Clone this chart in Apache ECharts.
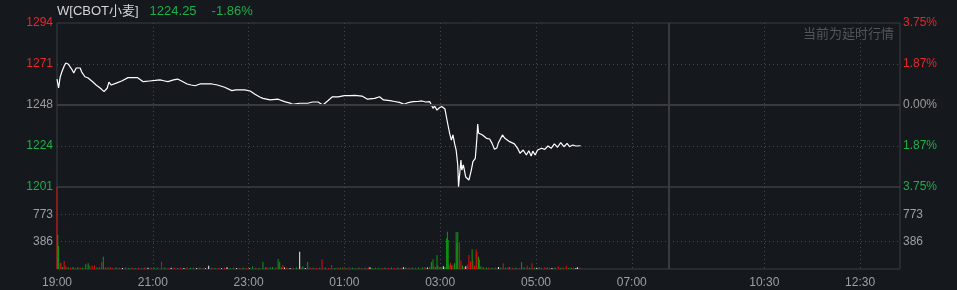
<!DOCTYPE html>
<html><head><meta charset="utf-8">
<script src="https://cdn.jsdelivr.net/npm/echarts@6/dist/echarts.min.js"></script>
<style>html,body{margin:0;padding:0;background:#15181d;}#c{width:957px;height:290px;}</style>
</head><body><div id="c"></div>
<script>
// ---- data ----
const symbolName = 'W[CBOT小麦]';
const lastPrice = '1224.25';
const changePct = '-1.86%';
const delayNote = '当前为延时行情';
const prevClose = 1247.5;
const pctRange = 3.75;
const sessions = [['19:00', '07:45'], ['08:30', '13:20']];
const timeTickLabels = ['19:00','21:00','23:00','01:00','03:00','05:00','07:00','10:30','12:30'];
const priceTickLabels = ['1201','1224','1248','1271','1294'];
const pctTickLabels = ['3.75%','1.87%','0.00%','1.87%','3.75%'];
const volTickLabels = ['', '386', '773', ''];
const volMax = 1159.5;
const volStep = 386.5;
// [minuteIndex, price]
const priceData = [[0,1262.3],[2,1257.2],[4,1263.5],[6,1266.3],[9,1269.8],[11,1271.5],[14,1270.9],[16,1269.8],[19,1267.5],[21,1265.8],[24,1268.6],[26,1269.2],[29,1268.6],[31,1266.3],[35,1263.6],[39,1262.9],[41,1261.8],[45,1260.6],[49,1258.9],[54,1257.2],[59,1255.1],[63,1257.2],[65,1260.6],[68,1258.9],[70,1258.9],[75,1260.1],[81,1261.2],[89,1263.1],[95,1263.2],[101,1263.1],[108,1260.8],[116,1261.2],[123,1261.5],[129,1261.8],[135,1261.2],[139,1260.8],[146,1261.8],[151,1262.3],[156,1261.2],[163,1259.5],[168,1258.9],[173,1258.5],[179,1259.5],[185,1259.5],[194,1259.5],[201,1258.9],[210,1257.6],[219,1255.7],[224,1256.1],[229,1256.2],[235,1256.1],[242,1255.5],[248,1253.6],[254,1252.1],[258,1251.3],[267,1250.4],[277,1250.8],[285,1249.4],[292,1248.6],[295,1247.9],[304,1248.5],[314,1248.5],[320,1249.2],[327,1249.2],[333,1247.5],[339,1249.8],[345,1252.2],[352,1252.1],[360,1252.8],[367,1252.9],[373,1253.0],[382,1252.6],[389,1250.8],[398,1251.3],[404,1252.2],[409,1250.4],[417,1250.0],[423,1249.5],[429,1249.0],[435,1247.9],[440,1248.9],[446,1249.4],[452,1249.5],[457,1249.8],[462,1249.2],[467,1249.4],[471,1245.6],[473,1246.9],[476,1244.6],[479,1245.9],[482,1246.6],[486,1245.2],[487,1244.6],[489,1237.8],[492,1231.0],[494,1227.5],[496,1230.4],[498,1225.6],[500,1221.8],[502,1213.3],[503,1200.9],[506,1216.1],[507,1210.4],[509,1213.3],[512,1206.4],[514,1205.8],[516,1204.7],[519,1210.4],[521,1215.2],[524,1217.1],[526,1228.7],[527,1236.6],[528,1231.5],[529,1230.4],[533,1230.4],[538,1228.5],[542,1228.1],[545,1225.6],[548,1222.2],[551,1223.0],[553,1226.0],[558,1230.4],[561,1228.5],[567,1226.6],[573,1225.3],[577,1222.8],[580,1220.0],[584,1221.8],[588,1219.0],[591,1221.4],[594,1218.4],[596,1221.2],[599,1219.0],[602,1221.8],[607,1222.8],[611,1222.2],[615,1224.1],[619,1222.8],[623,1225.3],[627,1223.4],[631,1226.0],[635,1223.7],[639,1225.6],[642,1223.7],[646,1224.7],[650,1224.1],[656,1224.25]];
// [minuteIndex, volume, direction(1 up, -1 down, 0 flat)]
const volumeData = [[0,1300,1],[1,480,-1],[2,325,-1],[4,85,1],[5,90,1],[7,30,-1],[9,113,1],[11,45,1],[14,25,-1],[17,20,1],[20,30,-1],[23,15,1],[26,25,-1],[29,20,1],[32,18,-1],[36,66,-1],[39,80,-1],[41,50,1],[44,45,1],[47,50,1],[50,20,-1],[53,30,1],[56,99,1],[58,174,-1],[61,25,1],[64,20,-1],[67,30,1],[70,15,1],[74,25,-1],[78,20,1],[82,15,0],[86,25,1],[90,18,-1],[94,22,1],[98,15,-1],[102,20,1],[106,12,-1],[110,25,1],[114,18,0],[118,20,1],[122,15,-1],[126,22,1],[131,103,1],[135,20,-1],[139,15,1],[143,18,0],[147,20,1],[151,12,-1],[155,22,1],[159,15,0],[163,25,1],[167,18,-1],[171,20,1],[175,15,0],[179,22,-1],[183,18,1],[186,12,0],[190,45,0],[194,20,1],[198,15,-1],[202,18,1],[206,12,0],[210,20,1],[213,25,0],[217,15,-1],[221,22,1],[225,15,0],[229,18,1],[233,20,-1],[237,15,1],[241,12,0],[245,40,-1],[249,20,1],[253,15,-1],[258,103,-1],[261,20,-1],[263,30,1],[267,25,-1],[270,30,-1],[274,20,1],[277,141,-1],[279,103,-1],[281,25,-1],[283,55,1],[285,20,0],[288,20,1],[292,15,0],[296,18,1],[300,20,-1],[304,245,0],[306,20,1],[308,40,-1],[311,15,0],[314,100,-1],[317,20,1],[321,18,-1],[325,15,1],[329,20,1],[332,137,1],[336,20,-1],[340,18,1],[344,57,1],[348,15,-1],[352,20,1],[355,18,-1],[358,20,1],[362,15,-1],[366,22,1],[370,18,-1],[374,15,1],[378,20,-1],[382,15,1],[386,18,-1],[390,20,1],[392,25,0],[395,15,-1],[399,20,1],[403,18,-1],[407,15,1],[411,20,-1],[415,18,1],[419,22,-1],[423,15,1],[427,20,-1],[431,18,1],[434,25,0],[437,25,-1],[441,20,1],[445,22,-1],[449,18,1],[453,20,-1],[458,25,-1],[461,30,1],[464,20,0],[467,33,-1],[469,100,-1],[471,137,-1],[472,40,1],[474,30,-1],[476,198,-1],[477,50,-1],[479,30,1],[481,25,-1],[484,40,0],[486,30,-1],[488,434,-1],[489,528,-1],[490,410,-1],[491,60,-1],[493,90,1],[494,50,-1],[496,60,1],[498,80,-1],[500,518,-1],[501,369,-1],[502,523,-1],[504,377,1],[506,121,1],[508,50,-1],[510,30,1],[512,40,0],[514,60,1],[516,198,1],[518,110,1],[520,278,-1],[521,120,1],[523,50,1],[525,278,1],[526,245,1],[528,174,-1],[529,136,-1],[531,40,-1],[534,25,-1],[538,20,-1],[541,25,1],[545,18,-1],[549,20,1],[553,30,0],[556,20,-1],[559,80,1],[562,18,-1],[565,22,1],[567,30,-1],[571,18,1],[575,20,-1],[579,15,1],[582,100,-1],[585,20,-1],[589,45,1],[592,18,-1],[595,80,1],[598,20,-1],[601,15,0],[604,30,-1],[607,18,1],[611,25,1],[614,20,-1],[617,18,1],[620,15,0],[624,20,-1],[628,40,1],[631,18,-1],[634,20,1],[638,45,1],[641,15,-1],[644,20,-1],[647,18,1],[650,15,0],[652,25,0],[655,18,1]];

// ---- build ----
const RED = '#e8262d', GREEN = '#1eae4a', GREY = '#9c9c9c', AXIS = '#9aa0a8';
const BAR_RED = '#e30e0e', BAR_GREEN = '#0f9a12', BAR_WHITE = '#f0f0f0';
const GRIDC = '#45484e', BORDER = '#3b3d42';
const FONT = 'Arial, "Liberation Sans", "Noto Sans CJK SC", sans-serif';

function toMin(t){const [h,m]=t.split(':').map(Number);return h*60+m;}
function pad(n){return (n<10?'0':'')+n;}
const categories = [];
sessions.forEach(([s,e])=>{
  let a=toMin(s), b=toMin(e); if (b<a) b+=1440;
  for(let m=a;m<=b;m++){const mm=m%1440;categories.push(pad(Math.floor(mm/60))+':'+pad(mm%60));}
});
const tickIdx = timeTickLabels.map(t=>categories.indexOf(t));
const breakCat = sessions[1][0];

const step = prevClose*pctRange/100/2;
const pMin = prevClose-2*step, pMax = prevClose+2*step;
function pIdx(v){return Math.round((v-pMin)/step);}
function colorKey(i){return i<2?'g':(i===2?'n':'r');}
const rich = {r:{color:RED,fontSize:12,fontFamily:FONT},g:{color:GREEN,fontSize:12,fontFamily:FONT},n:{color:GREY,fontSize:12,fontFamily:FONT}};

const dotted = {show:true, lineStyle:{color:GRIDC, type:[1,3], width:1}, showMinLine:false, showMaxLine:false};
const splitX = {show:true, interval:(i)=>i>0 && tickIdx.includes(i), lineStyle:{color:GRIDC, type:[1,3], width:1}};

function volSeries(dir, color){
  return {type:'bar', xAxisIndex:1, yAxisIndex:2, barWidth:1, barGap:'-100%', clip:true,
    itemStyle:{color}, silent:true,
    data: volumeData.filter(d=>d[2]===dir).map(d=>[d[0],d[1]])};
}

const option = {
  backgroundColor:'#15181d',
  animation:false,
  textStyle:{fontFamily:FONT},
  title:[{
    text:'{a|'+symbolName+'}{b|'+lastPrice+'}{c|'+changePct+'}',
    left:57, top:5, padding:0,
    textStyle:{fontWeight:'normal',rich:{
      a:{color:'#d2d4d8',fontSize:13,fontWeight:'normal',fontFamily:FONT,padding:[0,11,0,0]},
      b:{color:GREEN,fontSize:13,fontWeight:'normal',fontFamily:FONT,padding:[0,15,0,0]},
      c:{color:GREEN,fontSize:13,fontWeight:'normal',fontFamily:FONT}}}
  },{
    text:delayNote, right:63, top:27, padding:0,
    textStyle:{color:'#52565c',fontSize:13,fontWeight:'normal',fontFamily:'"Noto Sans CJK SC", sans-serif'}
  }],
  grid:[
    {left:57,right:57,top:23,height:164,show:true,borderColor:BORDER,borderWidth:1,backgroundColor:'transparent'},
    {left:57,right:57,top:187,height:82,show:true,borderColor:BORDER,borderWidth:1,backgroundColor:'transparent'}
  ],
  xAxis:[
    {type:'category',gridIndex:0,data:categories,boundaryGap:false,axisLine:{show:false},axisTick:{show:false},axisLabel:{show:false},splitLine:splitX},
    {type:'category',gridIndex:1,data:categories,boundaryGap:false,axisLine:{show:false},axisTick:{show:false},
      axisLabel:{show:true,interval:(i)=>tickIdx.includes(i),color:AXIS,fontSize:12,margin:8,fontFamily:FONT},splitLine:splitX}
  ],
  yAxis:[
    {type:'value',gridIndex:0,position:'left',min:pMin,max:pMax,interval:step,axisLine:{show:false},axisTick:{show:false},
      axisLabel:{margin:4,formatter:(v)=>{const i=pIdx(v);return '{'+colorKey(i)+'|'+priceTickLabels[i]+'}';},rich},splitLine:dotted},
    {type:'value',gridIndex:0,position:'right',min:pMin,max:pMax,interval:step,axisLine:{show:false},axisTick:{show:false},
      axisLabel:{margin:3,formatter:(v)=>{const i=pIdx(v);return '{'+colorKey(i)+'|'+pctTickLabels[i]+'}';},rich},splitLine:{show:false}},
    {type:'value',gridIndex:1,position:'left',min:0,max:volMax,interval:volStep,axisLine:{show:false},axisTick:{show:false},
      axisLabel:{margin:4,color:AXIS,fontSize:12,fontFamily:FONT,formatter:(v)=>volTickLabels[Math.round(v/volStep)]||''},splitLine:dotted},
    {type:'value',gridIndex:1,position:'right',min:0,max:volMax,interval:volStep,axisLine:{show:false},axisTick:{show:false},
      axisLabel:{margin:3,color:AXIS,fontSize:12,fontFamily:FONT,formatter:(v)=>volTickLabels[Math.round(v/volStep)]||''},splitLine:{show:false}}
  ],
  series:[
    {type:'line',xAxisIndex:0,yAxisIndex:0,data:priceData,showSymbol:false,symbol:'none',silent:true,
      lineStyle:{color:'#ffffff',width:1.2},
      markLine:{silent:true,symbol:'none',label:{show:false},animation:false,
        data:[{yAxis:prevClose,lineStyle:{color:'#3a3b3f',width:2,type:'solid'}},
              {xAxis:breakCat,lineStyle:{color:'#3a3b3f',width:2,type:'solid'}}]}},
    Object.assign(volSeries(1,BAR_RED),{markLine:{silent:true,symbol:'none',label:{show:false},animation:false,
        data:[{xAxis:breakCat,lineStyle:{color:'#3a3b3f',width:2,type:'solid'}}]}}),
    volSeries(-1,BAR_GREEN),
    volSeries(0,BAR_WHITE)
  ]
};
const chart = echarts.init(document.getElementById('c'), null, {renderer:'canvas'});
chart.setOption(option);
</script></body></html>
